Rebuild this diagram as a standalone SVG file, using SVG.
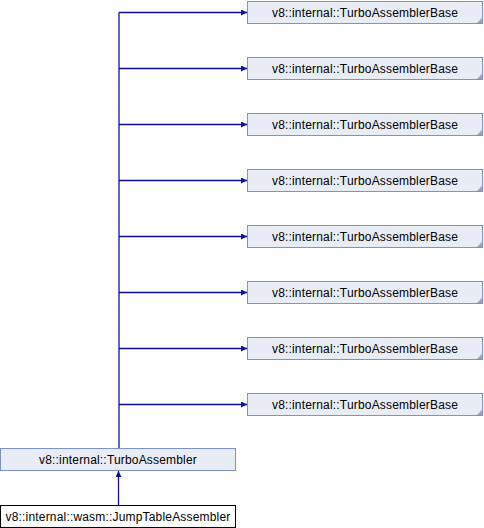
<svg xmlns="http://www.w3.org/2000/svg" width="484" height="528" viewBox="0 0 484 528">
<style>
.node{fill:#e8ecf5;stroke:#7b93c8;stroke-width:1}
.cur{fill:#ffffff;stroke:#000000;stroke-width:1}
.fold{fill:#8ea2cf;stroke:none}
.edge{fill:none;stroke:#0f0f9e;stroke-width:1.3}
text{font-family:"Liberation Sans",Arial,sans-serif;font-size:12px;fill:#000;text-anchor:middle;letter-spacing:0.18px}
</style>
<defs>
<marker id="ah" viewBox="0 0 6 6" refX="6" refY="3" markerWidth="6" markerHeight="6" markerUnits="userSpaceOnUse" orient="auto">
<path d="M0,0 L6,3 L0,6 Z" fill="#0f0f9e"/>
</marker>
</defs>
<g id="connectors">
<path class="edge" d="M119,448 V12.5"/>
<path class="edge" d="M119,12.5 H247" marker-end="url(#ah)"/>
<path class="edge" d="M119,68.5 H247" marker-end="url(#ah)"/>
<path class="edge" d="M119,124.5 H247" marker-end="url(#ah)"/>
<path class="edge" d="M119,180.5 H247" marker-end="url(#ah)"/>
<path class="edge" d="M119,236.5 H247" marker-end="url(#ah)"/>
<path class="edge" d="M119,292.5 H247" marker-end="url(#ah)"/>
<path class="edge" d="M119,348.5 H247" marker-end="url(#ah)"/>
<path class="edge" d="M119,404.5 H247" marker-end="url(#ah)"/>
<path class="edge" d="M118.5,505 V471" marker-end="url(#ah)"/>
</g>
<g id="base1"><rect class="node" x="247.5" y="1.5" width="235" height="22"/><polygon class="fold" points="482,18 482,23 477,23"/><text x="365" y="17">v8::internal::TurboAssemblerBase</text></g>
<g id="base2"><rect class="node" x="247.5" y="57.5" width="235" height="22"/><polygon class="fold" points="482,74 482,79 477,79"/><text x="365" y="73">v8::internal::TurboAssemblerBase</text></g>
<g id="base3"><rect class="node" x="247.5" y="113.5" width="235" height="22"/><polygon class="fold" points="482,130 482,135 477,135"/><text x="365" y="129">v8::internal::TurboAssemblerBase</text></g>
<g id="base4"><rect class="node" x="247.5" y="169.5" width="235" height="22"/><polygon class="fold" points="482,186 482,191 477,191"/><text x="365" y="185">v8::internal::TurboAssemblerBase</text></g>
<g id="base5"><rect class="node" x="247.5" y="225.5" width="235" height="22"/><polygon class="fold" points="482,242 482,247 477,247"/><text x="365" y="241">v8::internal::TurboAssemblerBase</text></g>
<g id="base6"><rect class="node" x="247.5" y="281.5" width="235" height="22"/><polygon class="fold" points="482,298 482,303 477,303"/><text x="365" y="297">v8::internal::TurboAssemblerBase</text></g>
<g id="base7"><rect class="node" x="247.5" y="337.5" width="235" height="22"/><polygon class="fold" points="482,354 482,359 477,359"/><text x="365" y="353">v8::internal::TurboAssemblerBase</text></g>
<g id="base8"><rect class="node" x="247.5" y="393.5" width="235" height="22"/><polygon class="fold" points="482,410 482,415 477,415"/><text x="365" y="409">v8::internal::TurboAssemblerBase</text></g>
<g id="turbo"><rect class="node" x="0.5" y="448.5" width="235" height="22"/><text x="118" y="464">v8::internal::TurboAssembler</text></g>
<g id="jump"><rect class="cur" x="0.5" y="505.5" width="235" height="22"/><text x="118" y="521">v8::internal::wasm::JumpTableAssembler</text></g>
</svg>
